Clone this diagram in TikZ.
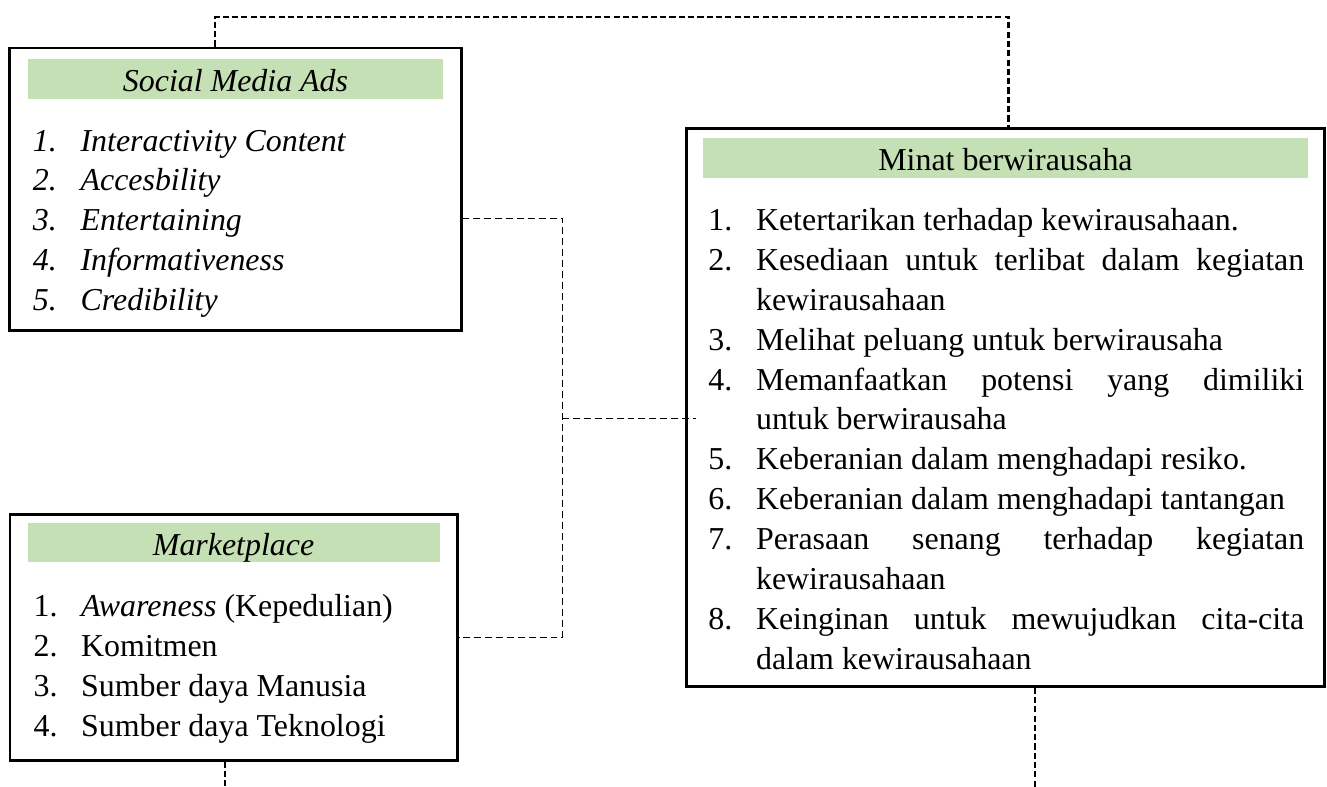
\documentclass[tikz,border=0pt]{standalone}
\usepackage{fontspec}
\setmainfont{Liberation Serif}
\usepackage{xcolor}
\usepackage{tikz}
\usetikzlibrary{positioning,calc}

\definecolor{hdrgreen}{HTML}{C5E0B4}
\newcommand{\itm}[2]{\makebox[0.63cm][l]{#1}#2}
\newcommand{\hang}{\hspace*{0.63cm}}

\begin{document}
\begin{tikzpicture}[
  box/.style={draw, line width=1.1pt, inner sep=0pt},
  head/.style={fill=hdrgreen, inner sep=0pt, minimum height=0.52cm, text height=10pt, text depth=0.6pt, font=\fontsize{12}{15}\selectfont},
  list/.style={inner sep=0pt, align=left, font=\fontsize{12}{15}\selectfont},
  bolddash/.style={line width=0.8pt, dash pattern=on 2.3pt off 1.2pt},
  thindash/.style={line width=0.4pt, dash pattern=on 2.6pt off 1.5pt}
]
\useasboundingbox (0,0) rectangle (17.54,-10.40);

\node[box, minimum width=5.963cm, minimum height=3.728cm] (social) at (3.113,-2.499) {};
\node[box, minimum width=5.910cm, minimum height=3.252cm] (market) at (3.087,-8.421) {};
\node[box, minimum width=8.435cm, minimum height=7.377cm] (minat) at (13.29,-5.381) {};

\node[head, minimum width=5.486cm, below=0.16cm of social.north] (smhead) {\textit{Social Media Ads}};
\node[head, minimum width=5.447cm, below=0.13cm of market.north] (mkhead) {\textit{Marketplace}};
\node[head, minimum width=7.985cm, below=0.15cm of minat.north] (mihead) {Minat berwirausaha};

\node[list, font=\fontsize{12}{15}\selectfont\itshape, below right=0.40cm and 0.066cm of smhead.south west] (smlist) {%
  \itm{1.}{Interactivity Content}\\
  \itm{2.}{Accesbility}\\
  \itm{3.}{Entertaining}\\
  \itm{4.}{Informativeness}\\
  \itm{5.}{Credibility}};

\node[list, below right=0.41cm and 0.08cm of mkhead.south west] (mklist) {%
  \itm{1.}{\textit{Awareness} (Kepedulian)}\\
  \itm{2.}{Komitmen}\\
  \itm{3.}{Sumber daya Manusia}\\
  \itm{4.}{Sumber daya Teknologi}};

\node[list, below right=0.39cm and 0.066cm of mihead.south west] (milist) {%
  \itm{1.}{Ketertarikan terhadap kewirausahaan.}\\
  \itm{2.}{\makebox[7.245cm][s]{Kesediaan untuk terlibat dalam kegiatan}}\\
  \hang kewirausahaan\\
  \itm{3.}{Melihat peluang untuk berwirausaha}\\
  \itm{4.}{\makebox[7.245cm][s]{Memanfaatkan potensi yang dimiliki}}\\
  \hang untuk berwirausaha\\
  \itm{5.}{Keberanian dalam menghadapi resiko.}\\
  \itm{6.}{Keberanian dalam menghadapi tantangan}\\
  \itm{7.}{\makebox[7.245cm][s]{Perasaan senang terhadap kegiatan}}\\
  \hang kewirausahaan\\
  \itm{8.}{\makebox[7.245cm][s]{Keinginan untuk mewujudkan cita-cita}}\\
  \hang dalam kewirausahaan};

% connectors
\coordinate (tp) at (13.33,-0.225);
\coordinate (jn) at (7.43,-5.526);
\coordinate (mb) at (2.975,-10.40);
\coordinate (mn) at (13.68,-10.40);

\draw[bolddash] ([xshift=-0.27cm]social.north) |- (tp) -- (tp |- minat.north);
\draw[thindash] ([yshift=-0.383cm]social.east) -| (jn) |- (market.east);
\draw[thindash] (jn) -- ($(minat.west |- jn)+(0.15,0)$);
\draw[bolddash] (market.south -| mb) -- (mb);
\draw[bolddash] (minat.south -| mn) -- (mn);

\end{tikzpicture}
\end{document}
